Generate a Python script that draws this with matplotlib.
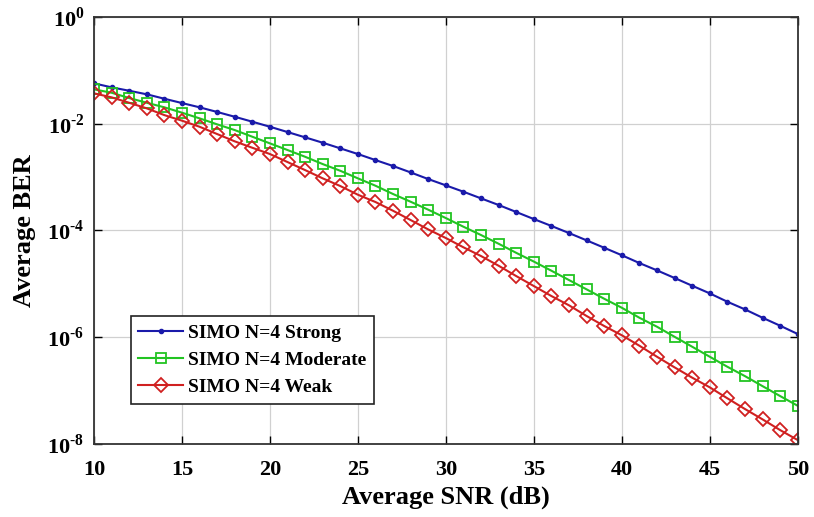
import matplotlib
matplotlib.use('Agg')
import matplotlib.pyplot as plt
import numpy as np

plt.rcParams['font.family'] = ['Liberation Serif', 'DejaVu Serif']
plt.rcParams['font.weight'] = 'bold'
plt.rcParams['mathtext.fontset'] = 'custom'
plt.rcParams['mathtext.rm'] = 'Liberation Serif:bold'
plt.rcParams['mathtext.bf'] = 'Liberation Serif:bold'

# SNR (dB), un punto por dB
snr = list(range(10, 51))

ber_strong = [5.71e-2, 4.81e-2, 4.15e-2, 3.56e-2, 2.94e-2, 2.44e-2, 2.03e-2, 1.66e-2,
              1.35e-2, 1.09e-2, 8.77e-3, 6.98e-3, 5.55e-3, 4.40e-3, 3.45e-3, 2.70e-3,
              2.08e-3, 1.61e-3, 1.22e-3, 9.16e-4, 6.98e-4, 5.30e-4, 3.98e-4, 2.99e-4,
              2.21e-4, 1.63e-4, 1.21e-4, 8.91e-5, 6.50e-5, 4.72e-5, 3.42e-5, 2.44e-5,
              1.78e-5, 1.28e-5, 9.16e-6, 6.59e-6, 4.59e-6, 3.30e-6, 2.30e-6, 1.63e-6,
              1.14e-6]

ber_moderate = [4.41e-2, 3.81e-2, 3.03e-2, 2.47e-2, 2.03e-2, 1.61e-2, 1.26e-2, 9.73e-3,
                7.60e-3, 5.70e-3, 4.28e-3, 3.21e-3, 2.40e-3, 1.75e-3, 1.31e-3, 9.45e-4,
                6.87e-4, 4.80e-4, 3.44e-4, 2.44e-4, 1.70e-4, 1.17e-4, 8.17e-5, 5.61e-5,
                3.79e-5, 2.60e-5, 1.75e-5, 1.17e-5, 7.83e-6, 5.22e-6, 3.54e-6, 2.30e-6,
                1.56e-6, 1.01e-6, 6.58e-7, 4.27e-7, 2.77e-7, 1.85e-7, 1.20e-7, 7.82e-8,
                5.14e-8]

ber_weak = [3.71e-2, 3.12e-2, 2.47e-2, 1.94e-2, 1.45e-2, 1.14e-2, 8.77e-3, 6.40e-3,
            4.67e-3, 3.54e-3, 2.70e-3, 1.91e-3, 1.35e-3, 9.45e-4, 6.78e-4, 4.66e-4,
            3.40e-4, 2.33e-4, 1.56e-4, 1.04e-4, 7.18e-5, 4.81e-5, 3.30e-5, 2.17e-5,
            1.39e-5, 9.04e-6, 5.87e-6, 3.93e-6, 2.48e-6, 1.61e-6, 1.08e-6, 6.87e-7,
            4.27e-7, 2.70e-7, 1.73e-7, 1.14e-7, 7.10e-8, 4.47e-8, 2.86e-8, 1.80e-8,
            1.17e-8]

labels = ['SIMO N=4 Strong', 'SIMO N=4 Moderate', 'SIMO N=4 Weak']
yticks = [1e0, 1e-2, 1e-4, 1e-6, 1e-8]
ytick_labels = [r'$10^{0}$', r'$10^{\text{-}2}$', r'$10^{\text{-}4}$',
                r'$10^{\text{-}6}$', r'$10^{\text{-}8}$']

fig = plt.figure(figsize=(8.14, 5.17), dpi=100)
ax = fig.add_axes([0.1155, 0.1418, 0.8645, 0.8252])

ax.semilogy(snr, ber_strong, color='#1a1aaa', lw=1.5, marker='.', ms=6, label=labels[0])
ax.semilogy(snr, ber_moderate, color='#22c422', lw=1.5, marker='s', ms=6.5,
            mfc='none', mew=1.3, label=labels[1])
ax.semilogy(snr, ber_weak, color='#d02020', lw=1.5, marker='D', ms=7.5,
            mfc='none', mew=1.3, label=labels[2])

ax.set_xlim(10, 50)
ax.set_ylim(1e-8, 1e0)
ax.set_xticks(range(10, 51, 5))
ax.set_yticks(yticks)
ax.set_yticklabels(ytick_labels)
ax.yaxis.set_minor_locator(matplotlib.ticker.NullLocator())
ax.tick_params(which='both', direction='in', top=True, right=True, labelsize=16,
               length=6, width=1.0)
ax.tick_params(axis='x', pad=12)
ax.tick_params(axis='y', pad=7)
ax.grid(True, color='#d0d0d0', lw=0.9)
for s in ax.spines.values():
    s.set_linewidth(1.3)
    s.set_color('#333333')

ax.set_xlabel('Average SNR (dB)', fontsize=19, fontweight='bold', labelpad=4)
ax.set_ylabel('Average BER', fontsize=19, fontweight='bold', labelpad=8)

leg = ax.legend(loc='lower left', bbox_to_anchor=(0.052, 0.093), fontsize=14,
                fancybox=False, edgecolor='#222222', framealpha=1,
                handlelength=2.3, handletextpad=0.25, borderpad=0.4,
                labelspacing=0.5, borderaxespad=0)
leg.get_frame().set_linewidth(1.2)

plt.savefig('out.png', dpi=100)
